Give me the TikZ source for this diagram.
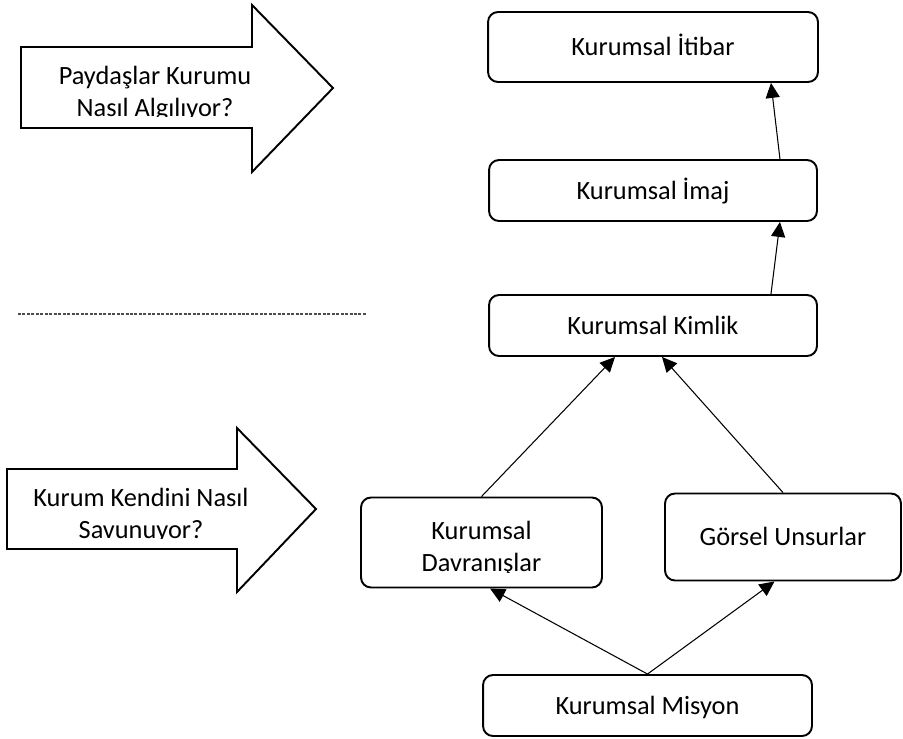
\documentclass[tikz,border=0pt]{standalone}
\usepackage{fontspec}
\setmainfont{Carlito}
\usetikzlibrary{arrows.meta}

\begin{document}
\begin{tikzpicture}[x=0.02cm, y=-0.02cm,
  every node/.style={font=\fontsize{15}{18}\selectfont},
  box/.style={draw=black, line width=1.1pt, rounded corners=0.2cm, align=center, inner sep=0pt, text height=0.36cm, text depth=0.02cm},
  bigarrow/.style={draw=black, line width=1.1pt, fill=white},
  caption/.style={align=center, anchor=north, inner sep=0pt},
  link/.style={-{Triangle[length=8.5pt, width=8pt]}, line width=0.6pt},
]

\useasboundingbox (0,0) rectangle (903,738);

% left side: block arrows
\draw[bigarrow] (21,47) -- (252,47) -- (252,5) -- (333,88) -- (252,172) -- (252,128) -- (21,128) -- cycle;
\begin{scope}
  \clip (21,47) rectangle (333,116);
  \node[caption] (algi) at (155,66) {Paydaşlar Kurumu\\Nasıl Algılıyor?};
\end{scope}

\draw[bigarrow] (7,469) -- (237,469) -- (237,428) -- (316,509) -- (237,592) -- (237,549) -- (7,549) -- cycle;
\begin{scope}
  \clip (7,469) rectangle (316,538);
  \node[caption] (savunma) at (141,488) {Kurum Kendini Nasıl\\Savunuyor?};
\end{scope}

\draw[black!70, line width=0.6pt, dash pattern=on 1.7pt off 0.85pt] (18,314) -- (367,314);

% right side: boxes
\node[box, minimum width=6.6cm, minimum height=1.4cm] (itibar) at (653,47) {Kurumsal İtibar};
\node[box, minimum width=6.56cm, minimum height=1.22cm] (imaj) at (653,190.5) {Kurumsal İmaj};
\node[box, minimum width=6.56cm, minimum height=1.22cm] (kimlik) at (653,325.5) {Kurumsal Kimlik};
\node[box, minimum width=4.82cm, minimum height=1.8cm] (davranis) at (481.5,542.5) {};
\begin{scope}
  \clip (361,498) rectangle (602,572);
  \node[caption] (davranisText) at (481.5,521) {Kurumsal\\Davranışlar};
\end{scope}
\node[box, minimum width=4.72cm, minimum height=1.74cm] (gorsel) at (783,537) {Görsel Unsurlar};
\node[box, minimum width=6.58cm, minimum height=1.22cm] (misyon) at (647.5,705.5) {Kurumsal Misyon};

% connectors
\draw[link] ([xshift=2.36cm]kimlik.north) -- ([xshift=2.54cm]imaj.south);
\draw[link] ([xshift=2.54cm]imaj.north) -- ([xshift=2.36cm]itibar.south);
\draw[link] (davranis.north) -- ([xshift=-0.76cm]kimlik.south);
\draw[link] (gorsel.north) -- ([xshift=0.18cm]kimlik.south);
\draw[link] (misyon.north) -- ([xshift=0.17cm]davranis.south);
\draw[link] (misyon.north) -- ([xshift=-0.17cm]gorsel.south);

\end{tikzpicture}
\end{document}
